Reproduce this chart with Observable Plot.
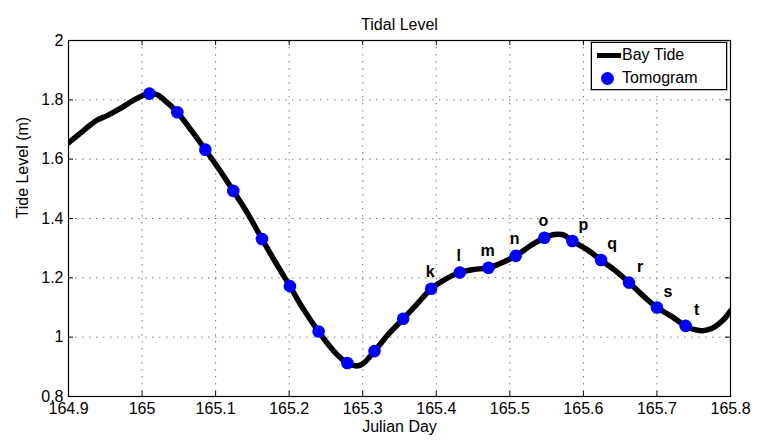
<!DOCTYPE html>
<html><head><meta charset="utf-8">
<script src="https://cdn.jsdelivr.net/npm/d3@7"></script>
<script src="https://cdn.jsdelivr.net/npm/@observablehq/plot@0.6"></script>
<style>
body{margin:0;background:#fff;}
#wrap{position:relative;width:759px;height:444px;font-family:"Liberation Sans",Arial,sans-serif;}
.legend{position:absolute;left:591px;top:42px;width:134px;height:46px;border:1px solid #000;box-shadow:0 0 0 1px #bbb;background:#fff;font-size:16px;color:#000;}
.legend .ln{position:absolute;left:5px;top:10px;width:24px;height:5px;background:#000;}
.legend .dt{position:absolute;left:9px;top:29px;width:13px;height:13px;border-radius:50%;background:#0000ff;}
.legend .t1{position:absolute;left:30px;top:3px;line-height:18px;}
.legend .t2{position:absolute;left:30px;top:26px;line-height:18px;}
</style></head>
<body>
<div id="wrap"></div>
<script>
// Bay Tide curve (Julian day, tide level m)
const tideDay = [164.900,164.915,164.930,164.940,164.952,164.970,164.993,165.010,165.020,165.030,165.048,165.067,165.086,165.105,165.124,165.144,165.163,165.182,165.201,165.220,165.240,165.260,165.279,165.291,165.300,165.316,165.335,165.355,165.375,165.393,165.412,165.432,165.451,165.471,165.490,165.508,165.528,165.547,165.560,165.573,165.585,165.605,165.624,165.643,165.662,165.681,165.700,165.720,165.739,165.750,165.762,165.775,165.790,165.800];
const tideLevel = [1.655,1.685,1.716,1.733,1.746,1.770,1.805,1.821,1.818,1.800,1.758,1.697,1.632,1.565,1.493,1.415,1.331,1.250,1.172,1.092,1.019,0.955,0.913,0.903,0.910,0.953,1.010,1.062,1.115,1.163,1.195,1.218,1.228,1.234,1.252,1.274,1.308,1.335,1.346,1.345,1.324,1.295,1.260,1.225,1.184,1.140,1.100,1.070,1.038,1.026,1.022,1.030,1.058,1.089];
// Tomogram times
const tomoDay = [165.010,165.048,165.086,165.124,165.163,165.201,165.240,165.279,165.316,165.355,165.393,165.432,165.471,165.508,165.547,165.585,165.624,165.662,165.700,165.739];
const tomoLevel = [1.821,1.758,1.632,1.493,1.331,1.172,1.019,0.913,0.953,1.062,1.163,1.218,1.234,1.274,1.335,1.324,1.260,1.184,1.100,1.038];
const tomoLabel = ["","","","","","","","","","","k","l","m","n","o","p","q","r","s","t"];
const labelsLeft = ["k","l","m","n","o"];
const xTicks = [164.9,165,165.1,165.2,165.3,165.4,165.5,165.6,165.7,165.8];
const xTickLabels = ["164.9","165","165.1","165.2","165.3","165.4","165.5","165.6","165.7","165.8"];
const yTicks = [0.8,1,1.2,1.4,1.6,1.8,2];
const yTickLabels = ["0.8","1","1.2","1.4","1.6","1.8","2"];
const titleText = "Tidal Level";
const xLabel = "Julian Day";
const yLabel = "Tide Level (m)";
const legendNames = ["Bay Tide","Tomogram"];

const tide = tideDay.map((d,i)=>({day:d, level:tideLevel[i]}));
const tomo = tomoDay.map((d,i)=>({day:d, level:tomoLevel[i], label:tomoLabel[i]}));
const labA = tomo.filter(d=>d.label && labelsLeft.includes(d.label));
const labB = tomo.filter(d=>d.label && !labelsLeft.includes(d.label));

const plot = Plot.plot({
  width: 759, height: 444,
  marginLeft: 68, marginRight: 29, marginTop: 40, marginBottom: 48,
  style: {fontFamily: '"Liberation Sans", Arial, sans-serif', fontSize: "16px", color: "#000", background: "#fff"},
  x: {domain: [164.9, 165.8]},
  y: {domain: [0.8, 2]},
  marks: [
    Plot.gridX(xTicks.slice(1,-1), {stroke: "#777", strokeOpacity: 1, strokeDasharray: "1.5,5.5"}),
    Plot.gridY(yTicks.slice(1,-1), {stroke: "#777", strokeOpacity: 1, strokeDasharray: "1.5,5.5"}),
    Plot.line(tide, {x: "day", y: "level", stroke: "#000", strokeWidth: 5.5, curve: "catmull-rom", clip: true, strokeLinejoin: "round"}),
    Plot.dot(tomo, {x: "day", y: "level", r: 6.3, fill: "#0000ff", stroke: null}),
    Plot.text(labA, {x: "day", y: "level", text: "label", dx: -1, dy: -17, fontWeight: "bold", fontSize: 16, fill: "#000"}),
    Plot.text(labB, {x: "day", y: "level", text: "label", dx: 11, dy: -16, fontWeight: "bold", fontSize: 16, fill: "#000"}),
    Plot.frame({stroke: "#000", strokeWidth: 1.2}),
    Plot.tickX(xTicks, {insetTop: 351, stroke: "#000"}),
    Plot.tickX(xTicks, {insetBottom: 351, stroke: "#000"}),
    Plot.tickY(yTicks, {insetRight: 657, stroke: "#000"}),
    Plot.tickY(yTicks, {insetLeft: 657, stroke: "#000"}),
    Plot.axisX(xTicks, {tickSize: 0, tickPadding: 6, tickFormat: (d,i)=>xTickLabels[i], label: null}),
    Plot.axisY(yTicks, {tickSize: 0, tickPadding: 5, tickFormat: (d,i)=>yTickLabels[i], label: null}),
    Plot.text([titleText], {frameAnchor: "top", dy: -22, text: d=>d, fontSize: 16}),
    Plot.text([xLabel], {frameAnchor: "bottom", dy: 35, text: d=>d, fontSize: 16}),
    Plot.text([yLabel], {frameAnchor: "left", dx: -46, rotate: -90, text: d=>d, fontSize: 16})
  ]
});
const wrap = document.getElementById("wrap");
wrap.appendChild(plot);
const lg = document.createElement("div");
lg.className = "legend";
lg.innerHTML = `<div class="ln"></div><span class="t1">${legendNames[0]}</span><div class="dt"></div><span class="t2">${legendNames[1]}</span>`;
wrap.appendChild(lg);
</script>
</body></html>
